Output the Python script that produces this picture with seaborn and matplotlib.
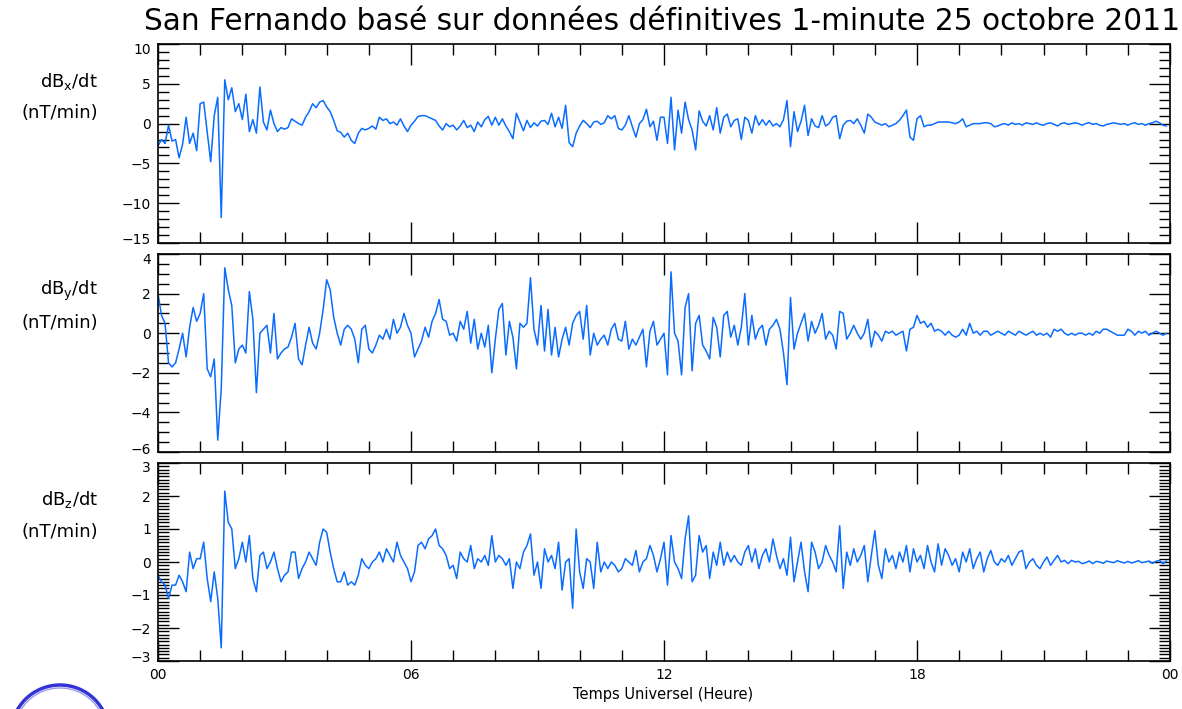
import numpy as np
import pandas as pd
import matplotlib
matplotlib.use("Agg")
import matplotlib.pyplot as plt
import seaborn as sns
from matplotlib.ticker import MultipleLocator, FixedLocator, FixedFormatter
from matplotlib.patches import Circle
from matplotlib.transforms import IdentityTransform, ScaledTranslation

# ---------------- data (5-minute samples) ----------------
title = "San Fernando basé sur données définitives 1-minute 25 octobre 2011"
xlabel = "Temps Universel (Heure)"
xtick_labels = ["00", "06", "12", "18", "00"]
ylabels = ["dB$_\\mathrm{x}$/dt", "dB$_\\mathrm{y}$/dt", "dB$_\\mathrm{z}$/dt"]
unit_label = "(nT/min)"

dbx = [
    -2.8, -2.0, -2.5, -0.2, -2.2, -2.0, -4.3, -2.6, 0.8, -2.5, -1.2, -3.4,
    2.5, 2.7, -1.0, -4.8, 1.0, 3.3, -11.8, 5.5, 3.0, 4.5, 1.5, 2.5,
    0.5, 3.7, -1.0, 0.5, -1.2, 4.6, 0.2, -0.8, 1.7, 0.0, -1.0, -0.5,
    -0.7, -0.5, 0.6, 0.3, 0.0, -0.2, 0.8, 1.5, 2.5, 2.0, 2.7, 2.9,
    2.1, 1.5, 0.4, -0.9, -1.1, -1.7, -1.2, -2.1, -2.5, -1.2, -0.6, -0.8,
    -0.6, -0.3, -0.7, 0.8, 0.4, 0.6, 0.0, 0.2, -0.2, 0.6, -0.3, -1.0,
    -0.2, 0.3, 0.9, 1.0, 1.0, 0.8, 0.6, 0.4, -0.3, -0.8, 0.0, -0.4,
    -0.2, -0.8, -0.3, 0.4, -0.5, -0.2, -1.0, 0.2, -0.4, 0.5, 0.9, -0.2,
    0.8, -0.2, 0.6, -0.3, -1.0, -1.9, 1.3, 0.2, -0.9, 0.4, -0.5, 0.1,
    -0.3, 0.3, 0.4, -0.1, 1.3, -0.4, 0.8, -0.6, 2.3, -2.4, -2.9, -1.2,
    -0.3, 0.4, 0.0, -0.5, 0.2, 0.3, -0.1, 0.1, 1.0, 0.6, 1.0, -0.6,
    -0.8, -0.2, 1.0, -0.4, -1.7, 0.0, 0.5, 1.8, -0.4, 0.3, -2.1, 0.8,
    0.8, -2.5, 3.3, -3.3, 1.7, -1.2, 2.7, 0.5, -0.8, -3.3, 1.6, 0.3,
    -0.3, 1.0, -0.8, 2.0, -1.2, 0.8, 1.2, -0.4, 0.4, 0.6, -2.0, 0.8,
    0.4, -1.2, 1.0, -0.2, 0.5, -0.2, 0.4, -0.3, 0.0, -0.4, 0.5, 2.9,
    -2.9, 1.5, -1.0, 0.3, 2.3, -1.5, 0.6, -0.3, -0.5, 1.0, -0.3, 0.0,
    0.8, 1.0, -1.9, -0.2, 0.3, 0.4, 0.0, 0.6, -0.2, -1.2, 1.2, 0.8,
    0.2, 0.0, -0.2, 0.0, -0.4, -0.2, 0.0, 0.4, 1.0, 1.7, -1.7, -2.1,
    0.6, 1.0, -0.4, -0.2, -0.2, 0.0, 0.2, 0.2, 0.2, 0.2, 0.1, 0.0,
    0.2, 0.6, -0.4, -0.2, 0.0, 0.0, 0.0, 0.1, 0.1, 0.0, -0.4, -0.3,
    -0.1, 0.0, -0.2, 0.1, -0.1, 0.0, -0.2, 0.1, 0.0, -0.1, 0.1, -0.1,
    -0.2, 0.0, 0.1, -0.1, -0.3, 0.0, 0.1, -0.1, 0.0, 0.1, 0.0, -0.2,
    0.0, 0.1, -0.1, 0.0, -0.2, -0.3, -0.1, 0.0, 0.1, 0.0, -0.1, 0.0,
    -0.2, 0.0, 0.1, -0.1, 0.0, -0.2, 0.0, 0.1, 0.3, 0.1, -0.2, -0.3,
]

dby = [
    2.0, 0.9, 0.5, -1.5, -1.7, -1.5, -0.8, 0.0, -1.2, 0.3, 1.3, 0.6,
    1.0, 2.0, -1.8, -2.2, -1.3, -5.4, -2.8, 3.3, 2.2, 1.4, -1.5, -0.8,
    -0.6, -1.0, 2.1, 0.7, -3.0, 0.0, 0.2, 0.4, -1.0, 1.0, -1.3, -1.0,
    -0.8, -0.7, -0.2, 0.5, -1.3, -1.6, -0.6, 0.3, -0.5, -0.8, 0.0, 1.2,
    2.7, 2.2, 0.8, 0.0, -0.6, 0.2, 0.4, 0.2, -0.3, -1.5, 0.2, 0.4,
    -0.8, -1.0, -0.6, -0.1, -0.3, 0.2, -0.3, 0.7, 0.0, 0.3, 1.0, 0.4,
    0.0, -1.2, -0.8, -0.4, 0.3, -0.2, 0.6, 1.0, 1.7, 0.7, 0.6, -0.1,
    0.0, -0.4, 0.6, 0.2, 1.1, -0.5, 0.7, -0.8, 0.0, -0.7, 0.4, -2.0,
    -0.3, 1.2, 1.5, -1.1, 0.6, -0.2, -1.8, 0.5, 0.3, 0.5, 2.8, 0.2,
    -0.6, 1.4, -0.9, 1.2, -1.1, 0.3, -1.2, -0.3, 0.3, -0.6, 0.5, 0.9,
    1.1, -0.3, 1.4, -1.1, 0.0, -0.6, -0.3, -0.1, -0.6, 0.2, 0.5, -0.3,
    -0.4, 0.6, -0.8, -0.3, -0.6, -0.2, 0.2, -1.7, 0.1, 0.6, -0.6, -0.3,
    0.0, -2.1, 3.1, 0.0, -0.4, -2.1, 1.3, 2.0, -1.9, 0.5, 0.9, -0.6,
    -0.9, -1.3, 0.8, 0.3, -1.2, 0.9, 1.1, -0.2, 0.4, -0.6, 0.3, 2.0,
    -0.6, 0.9, -0.3, 0.2, 0.4, -0.6, 0.2, 0.4, 0.7, 0.2, -1.0, -2.6,
    1.8, -0.8, 0.0, 0.5, 1.0, -0.4, 0.6, 0.0, 0.4, 1.0, -0.3, 0.1,
    -0.1, -0.8, 1.1, 1.0, -0.3, 0.0, 0.4, 0.0, -0.3, 0.0, 0.7, -0.7,
    0.1, -0.1, -0.4, 0.1, 0.0, 0.1, -0.1, 0.0, 0.1, -0.9, 0.2, 0.3,
    0.9, 0.5, 0.6, 0.3, 0.5, 0.1, 0.2, 0.1, -0.1, 0.1, -0.1, -0.2,
    -0.1, 0.2, -0.1, 0.5, 0.0, 0.1, -0.1, 0.1, 0.1, -0.1, 0.0, 0.1,
    0.0, -0.1, 0.1, 0.0, -0.1, 0.1, 0.0, -0.1, 0.0, 0.1, -0.1, 0.0,
    -0.1, 0.0, -0.2, 0.2, 0.1, 0.2, 0.0, -0.1, 0.0, -0.1, 0.0, 0.0,
    -0.1, 0.0, -0.1, 0.1, 0.0, 0.2, 0.2, 0.1, 0.0, -0.1, -0.1, -0.1,
    0.2, 0.1, -0.1, 0.1, 0.0, 0.1, -0.1, 0.0, 0.1, 0.0, -0.1, 0.0,
]

dbz = [
    -0.4, -0.6, -0.7, -1.1, -0.7, -0.7, -0.4, -0.6, -0.9, 0.3, -0.2, 0.1,
    0.1, 0.6, -0.5, -1.2, -0.3, -1.1, -2.6, 2.15, 1.2, 1.0, -0.2, 0.1,
    0.6, 0.0, 0.8, -0.5, -0.9, 0.2, 0.3, -0.2, 0.0, 0.3, -0.2, -0.6,
    -0.4, -0.3, 0.3, 0.3, -0.5, -0.2, 0.0, 0.3, 0.1, -0.1, 0.6, 1.0,
    0.9, 0.3, -0.2, -0.6, -0.6, -0.3, -0.7, -0.6, -0.7, -0.4, 0.1, -0.1,
    -0.2, 0.0, 0.1, 0.3, 0.0, 0.4, 0.2, 0.0, 0.6, 0.2, 0.0, -0.2,
    -0.6, -0.3, 0.5, 0.6, 0.4, 0.7, 0.8, 1.0, 0.5, 0.4, 0.2, -0.2,
    -0.1, -0.5, 0.3, 0.1, 0.0, 0.5, -0.2, 0.1, 0.0, 0.2, -0.1, 0.8,
    0.0, 0.2, 0.1, -0.1, 0.1, -0.8, 0.0, -0.2, 0.3, 0.5, 0.85, -0.4,
    0.0, -0.8, 0.4, 0.0, 0.2, -0.2, 0.6, -0.85, 0.0, 0.1, -1.4, 1.0,
    -0.3, -0.8, 0.1, 0.0, -0.8, 0.6, -0.3, 0.0, -0.2, 0.0, -0.1, -0.3,
    -0.2, 0.1, 0.0, -0.1, 0.35, -0.3, 0.0, 0.1, 0.5, 0.2, -0.3, 0.1,
    0.6, -0.7, 0.8, 0.0, -0.2, -0.5, 0.7, 1.4, -0.6, -0.4, 0.8, 0.3,
    0.5, -0.5, 0.3, -0.1, 0.6, -0.1, 0.3, 0.0, 0.2, 0.0, -0.1, 0.3,
    0.5, 0.0, 0.4, -0.2, 0.2, 0.4, 0.0, 0.7, 0.2, -0.2, 0.1, -0.4,
    0.75, -0.6, 0.0, 0.6, -0.3, -0.9, 0.6, 0.3, -0.2, 0.0, 0.5, 0.2,
    0.0, -0.3, 1.1, -0.8, 0.3, -0.1, 0.4, 0.0, 0.2, 0.5, -0.6, 0.2,
    0.95, -0.1, -0.5, 0.4, 0.0, 0.2, -0.2, 0.3, 0.0, 0.5, -0.3, 0.4,
    0.0, 0.2, -0.2, 0.5, 0.0, -0.3, 0.55, -0.1, 0.4, 0.2, -0.1, 0.1,
    -0.3, 0.3, 0.0, 0.4, -0.2, 0.1, 0.3, -0.3, 0.1, 0.35, 0.0, -0.1,
    0.1, 0.0, 0.2, -0.1, 0.1, 0.3, 0.35, -0.2, 0.0, 0.1, -0.1, -0.2,
    0.0, 0.15, -0.1, 0.05, 0.2, 0.0, 0.05, -0.05, 0.05, 0.0, 0.02, -0.05,
    -0.02, 0.03, -0.05, 0.02, 0.0, -0.04, 0.03, 0.0, -0.02, 0.04, 0.0, -0.03,
    0.02, -0.03, 0.0, 0.04, -0.02, 0.0, 0.03, -0.04, 0.02, 0.05, -0.05, 0.03,
]

series = [dbx, dby, dbz]
ylims = [(-15, 10), (-6, 4), (-3, 3)]
ymajor = [5, 2, 1]
yminor = [1, 0.5, 0.1]

# ---------------- style ----------------
sns.set_style("ticks")
plt.rcParams['font.family'] = ['DejaVu Sans']
plt.rcParams['text.color'] = 'black'
plt.rcParams['xtick.color'] = 'black'
plt.rcParams['ytick.color'] = 'black'
plt.rcParams['axes.labelcolor'] = 'black'
BLUE = "#0a6cff"

W_PX, H_PX = 1182, 709
fig = plt.figure(figsize=(W_PX / 100, H_PX / 100), dpi=100)
left_px, right_px = 158, 1170
panel_px = [(44, 243), (254, 452), (463, 661)]

for i, (vals, (top, bot)) in enumerate(zip(series, panel_px)):
    ax = fig.add_axes([left_px / W_PX, 1 - bot / H_PX,
                       (right_px - left_px) / W_PX, (bot - top) / H_PX])
    df = pd.DataFrame({"heure": np.arange(len(vals)) * 5 / 60.0, "val": vals})
    sns.lineplot(data=df, x="heure", y="val", ax=ax, color=BLUE,
                 linewidth=1.1, estimator=None)
    ax.set_xlim(0, 24)
    ax.set_ylim(*ylims[i])
    ax.set_xlabel("")
    ax.set_ylabel("")
    ax.xaxis.set_major_locator(MultipleLocator(6))
    ax.xaxis.set_minor_locator(MultipleLocator(1))
    ax.yaxis.set_major_locator(MultipleLocator(ymajor[i]))
    ax.yaxis.set_minor_locator(MultipleLocator(yminor[i]))
    ax.tick_params(which="both", direction="in", top=True, right=True,
                   width=1.0, color="black")
    ax.tick_params(which="major", length=15)
    ax.tick_params(which="minor", length=8)
    ax.tick_params(axis="y", labelsize=10, pad=5, labelcolor="black")
    for sp in ax.spines.values():
        sp.set_linewidth(1.2)
        sp.set_color("black")
    if i < 2:
        ax.tick_params(axis="x", labelbottom=False)
    else:
        ax.xaxis.set_major_locator(FixedLocator([0, 6, 12, 18, 24]))
        ax.xaxis.set_major_formatter(FixedFormatter(xtick_labels))
        ax.tick_params(axis="x", labelsize=10, pad=5, labelcolor="black")
    # nudge the extreme y tick labels inward, as in the reference
    locs = list(ax.yaxis.get_majorticklocs())
    ticks = ax.yaxis.get_major_ticks(len(locs))
    lo, hi = ylims[i]
    for loc, tk in zip(locs, ticks):
        if abs(loc - lo) < 1e-9:
            tk.label1.set_transform(tk.label1.get_transform() +
                                    ScaledTranslation(0, 4 / 100, fig.dpi_scale_trans))
        elif abs(loc - hi) < 1e-9:
            tk.label1.set_transform(tk.label1.get_transform() +
                                    ScaledTranslation(0, -4 / 100, fig.dpi_scale_trans))
    # y labels
    fig.text(98 / W_PX, 1 - (top + 37) / H_PX, ylabels[i], ha="right",
             va="center", fontsize=13)
    fig.text(98 / W_PX, 1 - (top + 69) / H_PX, unit_label, ha="right",
             va="center", fontsize=13)

fig.text(662 / W_PX, 1 - 22 / H_PX, title, ha="center", va="center",
         fontsize=21.3)
fig.text(663 / W_PX, 1 - 695 / H_PX, xlabel, ha="center", va="center",
         fontsize=10.5)

# logo ring at bottom-left (partially visible)
fig.add_artist(Circle((60, H_PX - 734), 49, transform=IdentityTransform(),
                      fill=False, edgecolor="#3434d6", linewidth=2.5))
fig.add_artist(Circle((60, H_PX - 734), 46, transform=IdentityTransform(),
                      fill=False, edgecolor="#9a9aec", linewidth=1.0))

fig.savefig("out.png", dpi=100)
